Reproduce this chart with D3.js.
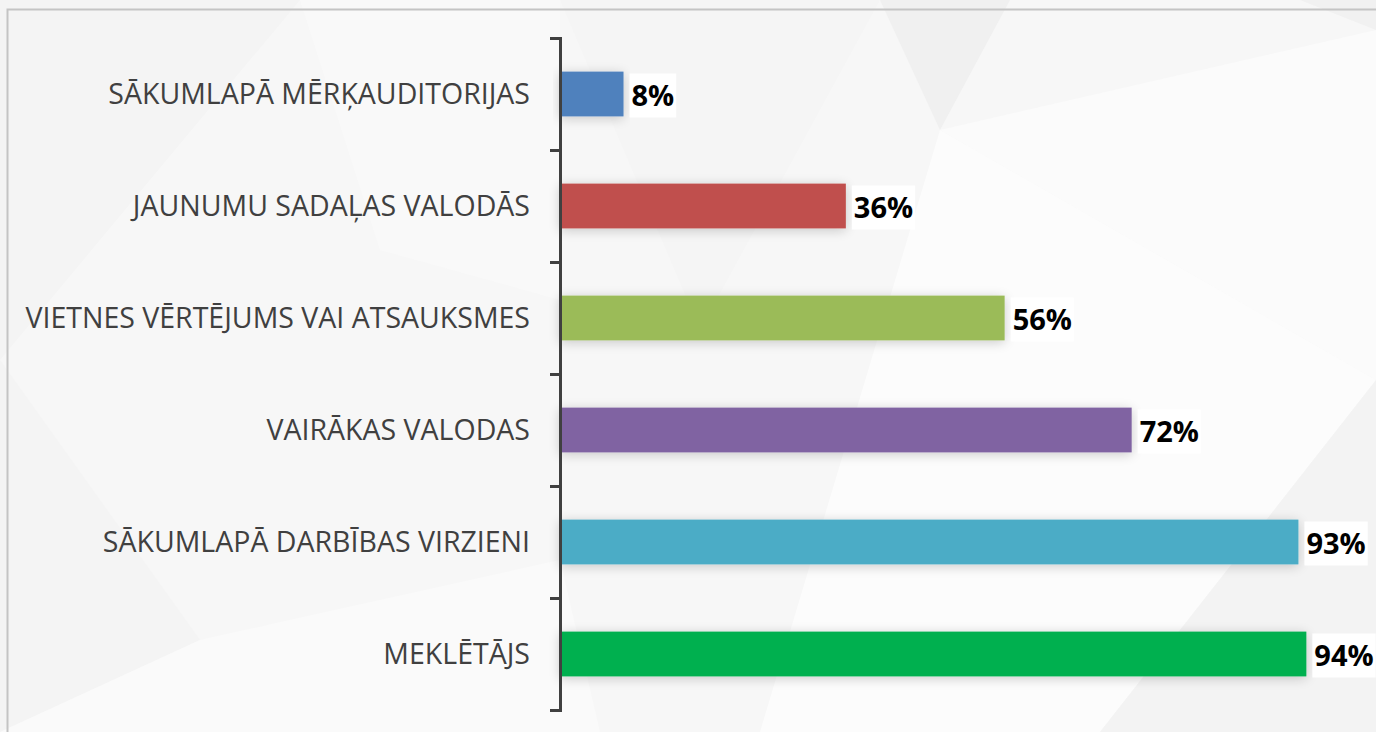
<!DOCTYPE html>
<html>
<head>
<meta charset="utf-8">
<script src="https://cdn.jsdelivr.net/npm/d3@7"></script>
<style>
  html, body { margin: 0; padding: 0; background: #fff; }
  svg { display: block; }
</style>
</head>
<body>
<div class="center"></div>
<script>
// chart data
var categories = ["SĀKUMLAPĀ MĒRĶAUDITORIJAS", "JAUNUMU SADAĻAS VALODĀS", "VIETNES VĒRTĒJUMS VAI ATSAUKSMES",
                  "VAIRĀKAS VALODAS", "SĀKUMLAPĀ DARBĪBAS VIRZIENI", "MEKLĒTĀJS"];
var values = [8, 36, 56, 72, 93, 94];
var barColors = ["#4F81BD", "#C0504D", "#9BBB59", "#8064A2", "#4BACC6", "#00B050"];

var W = 1376, H = 732;

var svg = d3.select(".center").append("svg")
    .attr("width", W)
    .attr("height", H);

var defs = svg.append("defs");

// soft shadow around the bars
var f = defs.append("filter").attr("id", "shadow")
    .attr("x", "-10%").attr("y", "-60%").attr("width", "120%").attr("height", "220%");
f.append("feGaussianBlur").attr("in", "SourceAlpha").attr("stdDeviation", 6).attr("result", "b");
f.append("feOffset").attr("in", "b").attr("dx", 0).attr("dy", 2).attr("result", "o");
f.append("feComponentTransfer").attr("in", "o").attr("result", "s")
  .append("feFuncA").attr("type", "linear").attr("slope", 0.2);
var fm = f.append("feMerge");
fm.append("feMergeNode").attr("in", "s");
fm.append("feMergeNode").attr("in", "SourceGraphic");

// background with faint polygon facets
svg.append("rect").attr("width", W).attr("height", H).attr("fill", "#f7f7f7");
var facets = [
  {p: [[0,0],[300,0],[0,360]], c: "#f4f4f4"},
  {p: [[880,0],[1010,0],[940,130]], c: "#f0f0f0"},
  {p: [[940,130],[1376,30],[1376,380]], c: "#fbfbfb"},
  {p: [[940,130],[1376,380],[1100,732],[760,732]], c: "#fcfcfc"},
  {p: [[1376,380],[1376,732],[1100,732]], c: "#f3f3f3"},
  {p: [[0,360],[200,640],[0,732]], c: "#f4f4f4"},
  {p: [[200,640],[560,560],[600,732],[0,732]], c: "#fafafa"},
  {p: [[300,0],[560,0],[560,300],[380,250]], c: "#f9f9f9"},
  {p: [[560,0],[880,0],[700,330]], c: "#f5f5f5"},
  {p: [[1300,0],[1376,0],[1376,30]], c: "#f1f1f1"}
];
svg.selectAll("polygon.facet")
    .data(facets)
    .enter().append("polygon")
    .attr("class", "facet")
    .attr("points", function(d) { return d.p.map(function(q) { return q.join(","); }).join(" "); })
    .attr("fill", function(d) { return d.c; });

// chart border
svg.append("rect")
    .attr("x", 7.5).attr("y", 9.5)
    .attr("width", W + 20).attr("height", H + 20)
    .attr("fill", "none")
    .attr("stroke", "#c4c4c4")
    .attr("stroke-width", 2);

// scales
var x = d3.scaleLinear().domain([0, 100]).range([560, 1354]);
var y = d3.scaleBand().domain(categories).range([38, 710]).paddingInner(0.6).paddingOuter(0.3);
var yEdges = d3.scaleLinear().domain([0, categories.length]).range([38, 710]);

// bars
svg.selectAll("rect.bar")
    .data(values)
    .enter().append("rect")
    .attr("class", "bar")
    .attr("x", x(0))
    .attr("y", function(d, i) { return y(categories[i]); })
    .attr("width", function(d) { return x(d) - x(0); })
    .attr("height", y.bandwidth())
    .attr("fill", function(d, i) { return barColors[i]; })
    .attr("filter", "url(#shadow)");

// y axis: ticks sit between categories
var axis = svg.append("g")
    .attr("transform", "translate(" + x(0) + ",0)")
    .call(d3.axisLeft(yEdges).tickValues(d3.range(categories.length + 1))
        .tickFormat("").tickSize(10).tickSizeOuter(10));
axis.selectAll("path, line").attr("stroke", "#404040").attr("stroke-width", 3);

// category labels
svg.selectAll("text.cat")
    .data(categories)
    .enter().append("text")
    .attr("class", "cat")
    .attr("x", 530)
    .attr("y", function(d) { return y(d) + y.bandwidth() / 2; })
    .attr("dy", "0.36em")
    .attr("text-anchor", "end")
    .style("font-family", "Open Sans")
    .style("font-size", "28.5px")
    .style("fill", "#404040")
    .text(function(d) { return d; });

// value labels on white boxes
var lab = svg.selectAll("g.lab")
    .data(values)
    .enter().append("g")
    .attr("class", "lab")
    .attr("transform", function(d, i) {
        return "translate(" + (x(d) + 6) + "," + (y(categories[i]) + y.bandwidth() / 2 + 1.5) + ")";
    });
lab.append("rect").attr("fill", "#fff");
var lt = lab.append("text")
    .attr("x", 2)
    .attr("dy", "0.37em")
    .style("font-family", "Open Sans")
    .style("font-weight", "bold")
    .style("font-size", "29px")
    .style("fill", "#000")
    .text(function(d) { return d + "%"; });
lt.each(function() {
    var w = this.getComputedTextLength();
    d3.select(this.parentNode).select("rect")
        .attr("x", 0).attr("y", -22).attr("width", w + 4).attr("height", 44);
});
</script>
</body>
</html>
